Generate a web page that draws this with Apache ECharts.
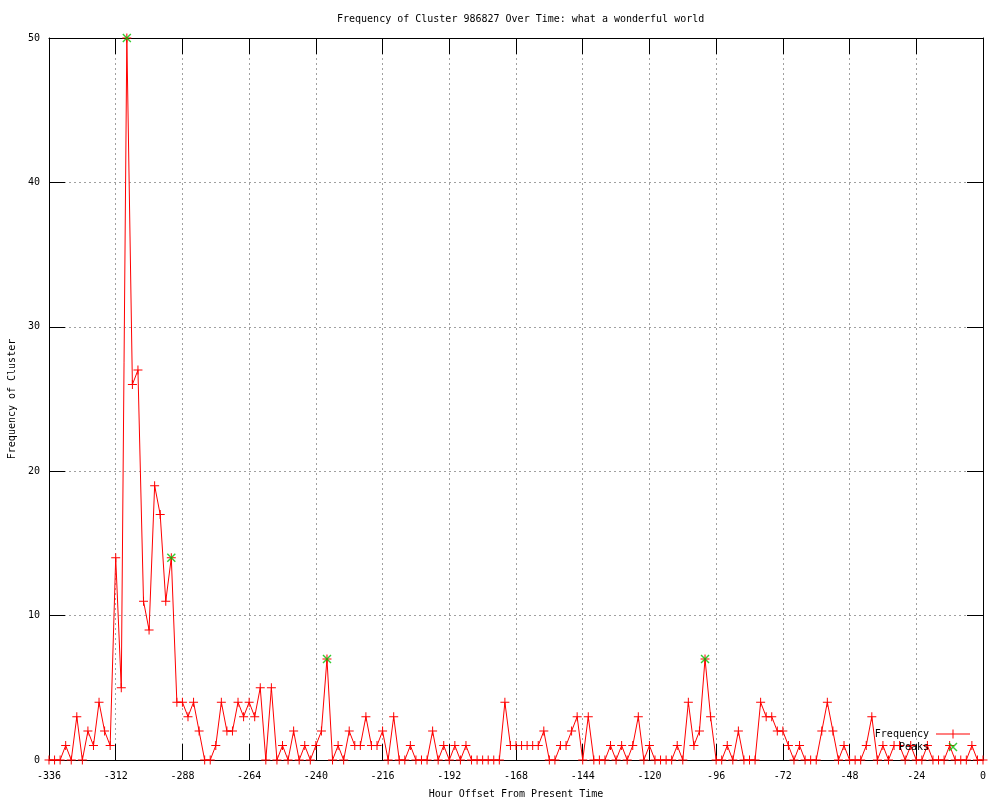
<!DOCTYPE html>
<html>
<head>
<meta charset="utf-8">
<script src="https://cdn.jsdelivr.net/npm/echarts@6/dist/echarts.min.js"></script>
<style>
html,body{margin:0;padding:0;background:#fff;}
#chart{width:1000px;height:800px;}
</style>
</head>
<body>
<div id="chart"></div>
<script>
const hours = [-336,-334,-332,-330,-328,-326,-324,-322,-320,-318,-316,-314,-312,-310,-308,-306,-304,-302,-300,-298,
-296,-294,-292,-290,-288,-286,-284,-282,-280,-278,-276,-274,-272,-270,-268,-266,-264,-262,-260,-258,
-256,-254,-252,-250,-248,-246,-244,-242,-240,-238,-236,-234,-232,-230,-228,-226,-224,-222,-220,-218,
-216,-214,-212,-210,-208,-206,-204,-202,-200,-198,-196,-194,-192,-190,-188,-186,-184,-182,-180,-178,
-176,-174,-172,-170,-168,-166,-164,-162,-160,-158,-156,-154,-152,-150,-148,-146,-144,-142,-140,-138,
-136,-134,-132,-130,-128,-126,-124,-122,-120,-118,-116,-114,-112,-110,-108,-106,-104,-102,-100,-98,
-96,-94,-92,-90,-88,-86,-84,-82,-80,-78,-76,-74,-72,-70,-68,-66,-64,-62,-60,-58,
-56,-54,-52,-50,-48,-46,-44,-42,-40,-38,-36,-34,-32,-30,-28,-26,-24,-22,-20,-18,
-16,-14,-12,-10,-8,-6,-4,-2,0];
const frequency = [0,0,0,1,0,3,0,2,1,4,2,1,14,5,50,26,27,11,9,19,
17,11,14,4,4,3,4,2,0,0,1,4,2,2,4,3,4,3,5,0,
5,0,1,0,2,0,1,0,1,2,7,0,1,0,2,1,1,3,1,1,
2,0,3,0,0,1,0,0,0,2,0,1,0,1,0,1,0,0,0,0,
0,0,4,1,1,1,1,1,1,2,0,0,1,1,2,3,0,3,0,0,
0,1,0,1,0,1,3,0,1,0,0,0,0,1,0,4,1,2,7,3,
0,0,1,0,2,0,0,0,4,3,3,2,2,1,0,1,0,0,0,2,
4,2,0,1,0,0,0,1,3,0,1,0,1,1,0,1,0,0,1,0,
0,0,1,0,0,0,1,0,0];
const peakHours = [-308,-292,-236,-100];
const peakValues = [50,14,7,7];

const titleText = 'Frequency of Cluster 986827 Over Time: what a wonderful world';
const xName = 'Hour Offset From Present Time';
const yName = 'Frequency of Cluster';

const FONT = 'DejaVu Sans Mono';
const plusPath = 'path://M4,0 L5,0 L5,4 L9,4 L9,5 L5,5 L5,9 L4,9 L4,5 L0,5 L0,4 L4,4 Z';
const crossPath = 'path://M0,1 L1,0 L9,8 L8,9 Z M8,0 L9,1 L1,9 L0,8 Z';
const lineIconPath = 'path://M0,4 L34,4 L34,5 L0,5 Z M16.5,0 L17.5,0 L17.5,9 L16.5,9 Z';

const chart = echarts.init(document.getElementById('chart'), null, {renderer: 'canvas'});
const gridLine = {show: true, lineStyle: {color: '#a0a0a0', type: [2, 3], width: 1}};
const blackLine = {show: true, onZero: false, lineStyle: {color: '#000', width: 1}};
const tick = {show: true, inside: true, length: 16, lineStyle: {color: '#000', width: 1}};
const txt = {color: '#000', fontFamily: FONT, fontSize: 10};

chart.setOption({
  animation: false,
  backgroundColor: '#fff',
  title: {text: titleText, left: 332, top: 9, textStyle: Object.assign({fontWeight: 'normal'}, txt)},
  grid: {left: 49, right: 17, top: 38, bottom: 40, containLabel: false, outerBoundsMode: 'none'},
  legend: {
    orient: 'vertical', align: 'right', right: 25, top: 724,
    itemWidth: 34, itemHeight: 9, itemGap: 3,
    textStyle: Object.assign({padding: [0, 2, 0, 0]}, txt),
    data: [
      {name: 'Frequency', icon: lineIconPath, itemStyle: {color: '#ff0000'}},
      {name: 'Peaks', icon: crossPath, itemStyle: {color: '#00c000'}}
    ]
  },
  xAxis: [
    {type: 'value', position: 'bottom', min: -336, max: 0, interval: 24,
     axisLine: blackLine, axisTick: tick, splitLine: gridLine,
     axisLabel: Object.assign({margin: 11}, txt),
     name: xName, nameLocation: 'middle', nameGap: 29, nameTextStyle: txt},
    {type: 'value', position: 'top', min: -336, max: 0, interval: 24,
     axisLine: blackLine, axisTick: tick, splitLine: {show: false}, axisLabel: {show: false}}
  ],
  yAxis: [
    {type: 'value', position: 'left', min: 0, max: 50, interval: 10,
     axisLine: blackLine, axisTick: tick, splitLine: gridLine,
     axisLabel: Object.assign({margin: 9}, txt),
     name: yName, nameLocation: 'middle', nameGap: 30, nameTextStyle: txt},
    {type: 'value', position: 'right', min: 0, max: 50, interval: 10,
     axisLine: blackLine, axisTick: tick, splitLine: {show: false}, axisLabel: {show: false}}
  ],
  series: [
    {name: 'Frequency', type: 'line', xAxisIndex: 0, yAxisIndex: 0,
     data: hours.map((h, i) => [h, frequency[i]]),
     symbol: plusPath, symbolSize: 9, showAllSymbol: true, clip: false,
     lineStyle: {color: '#ff0000', width: 1}, itemStyle: {color: '#ff0000'},
     emphasis: {disabled: true}, z: 3},
    {name: 'Peaks', type: 'scatter', xAxisIndex: 0, yAxisIndex: 0,
     data: peakHours.map((h, i) => [h, peakValues[i]]),
     symbol: crossPath, symbolSize: 9, clip: false,
     itemStyle: {color: '#00c000'}, emphasis: {disabled: true}, z: 4}
  ]
});
</script>
</body>
</html>
